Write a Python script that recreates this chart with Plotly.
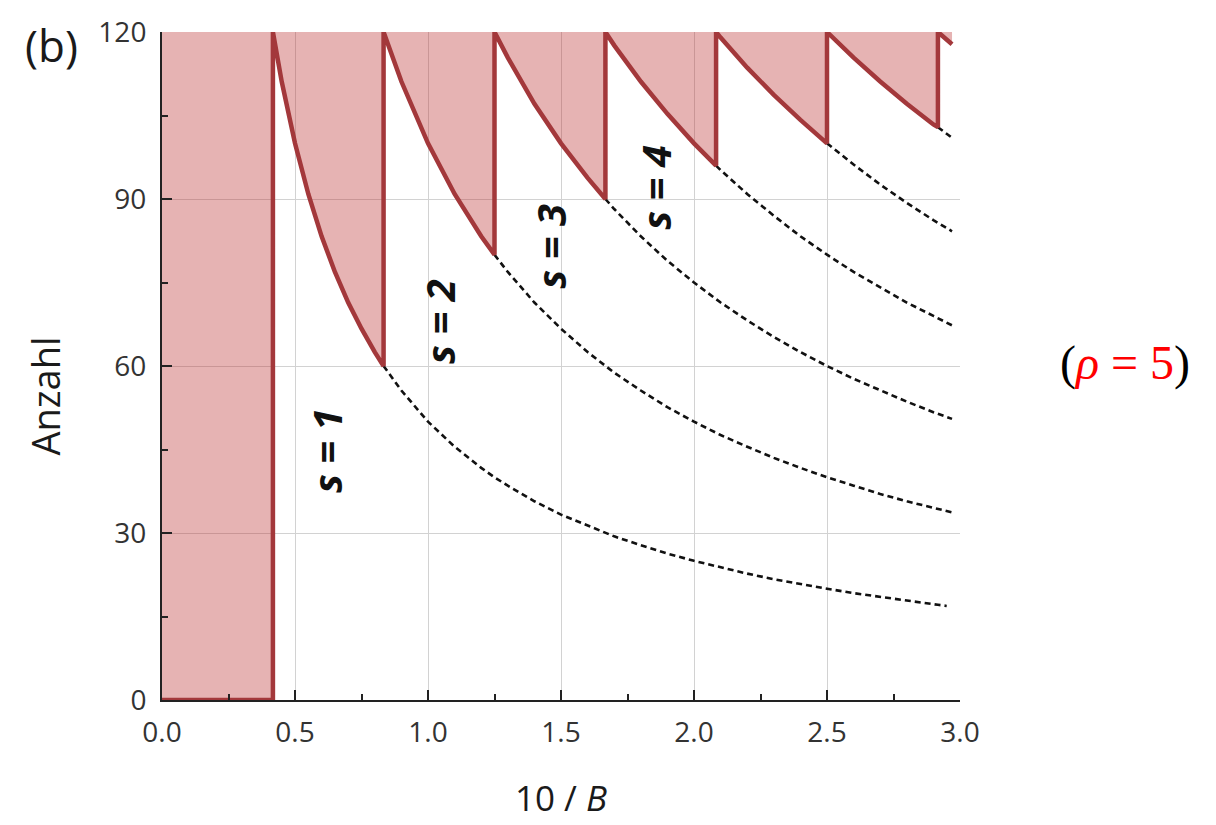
import plotly.graph_objects as go

# Sample positions along 10/B
curve_x = [0.417, 0.45, 0.5, 0.55, 0.6, 0.65, 0.7, 0.75, 0.8, 0.833, 0.9, 1.0, 1.1, 1.2,
           1.25, 1.3, 1.4, 1.5, 1.6, 1.667, 1.7, 1.8, 1.9, 2.0, 2.083, 2.1, 2.2, 2.3,
           2.4, 2.5, 2.6, 2.7, 2.8, 2.9, 2.917, 2.97]

N = None
# Anzahl for each branch s (None where the branch does not exist yet)
anzahl_s1 = [120, 111.1, 100, 90.9, 83.3, 76.9, 71.4, 66.7, 62.5, 60.0, 55.6, 50, 45.5, 41.7,
             40, 38.5, 35.7, 33.3, 31.3, 30, 29.4, 27.8, 26.3, 25, 24, 23.8, 22.7, 21.7,
             20.8, 20, 19.2, 18.5, 17.9, 17.2, 17.1, 16.8]
anzahl_s2 = [N, N, N, N, N, N, N, N, N, 120, 111.1, 100, 90.9, 83.3,
             80, 76.9, 71.4, 66.7, 62.5, 60, 58.8, 55.6, 52.6, 50, 48, 47.6, 45.5, 43.5,
             41.7, 40, 38.5, 37.0, 35.7, 34.5, 34.3, 33.7]
anzahl_s3 = [N, N, N, N, N, N, N, N, N, N, N, N, N, N,
             120, 115.4, 107.1, 100, 93.8, 90, 88.2, 83.3, 78.9, 75, 72, 71.4, 68.2, 65.2,
             62.5, 60, 57.7, 55.6, 53.6, 51.7, 51.4, 50.5]
anzahl_s4 = [N, N, N, N, N, N, N, N, N, N, N, N, N, N,
             N, N, N, N, N, 120, 117.6, 111.1, 105.3, 100, 96, 95.2, 90.9, 87.0,
             83.3, 80, 76.9, 74.1, 71.4, 69.0, 68.6, 67.3]
anzahl_s5 = [N, N, N, N, N, N, N, N, N, N, N, N, N, N,
             N, N, N, N, N, N, N, N, N, N, 120, 119.0, 113.6, 108.7,
             104.2, 100, 96.2, 92.6, 89.3, 86.2, 85.7, 84.2]
anzahl_s6 = [N, N, N, N, N, N, N, N, N, N, N, N, N, N,
             N, N, N, N, N, N, N, N, N, N, N, N, N, N,
             N, 120, 115.4, 111.1, 107.1, 103.4, 102.9, 101.0]
anzahl_s7 = [N, N, N, N, N, N, N, N, N, N, N, N, N, N,
             N, N, N, N, N, N, N, N, N, N, N, N, N, N,
             N, N, N, N, N, N, 120, 117.8]

branches = [anzahl_s1, anzahl_s2, anzahl_s3, anzahl_s4, anzahl_s5, anzahl_s6, anzahl_s7]
y_top = 120
line_red = "#a3383b"

# Sawtooth: at each x, the branch with the largest s that exists
saw_x, saw_y = [0, curve_x[0]], [0, 0]
for i, x in enumerate(curve_x):
    active = [b[i] for b in branches if b[i] is not None]
    if len(active) > 1 and active[-1] == y_top and i > 0:
        # jump: end of previous branch, then straight up to the top
        saw_x.append(x)
        saw_y.append(active[-2])
    saw_x.append(x)
    saw_y.append(active[-1])

fig = go.Figure()

# shaded area above the sawtooth
fig.add_trace(go.Scatter(
    x=saw_x + [saw_x[-1], 0], y=saw_y + [y_top, y_top],
    fill="toself", fillcolor="rgba(185,45,45,0.36)", mode="none",
    hoverinfo="skip", showlegend=False))

# dashed continuations of each branch below the sawtooth
for s, b in enumerate(branches[:-1]):
    nxt = branches[s + 1]
    start = next(i for i, v in enumerate(nxt) if v is not None)
    xs = curve_x[start:]
    ys = b[start:]
    if s == 0:
        xs, ys = xs[:-1] + [2.95], ys[:-1] + [16.9]
    fig.add_trace(go.Scatter(
        x=xs, y=ys, mode="lines",
        line=dict(color="#111111", width=2.6, dash="6px,4px"),
        hoverinfo="skip", showlegend=False))

fig.add_trace(go.Scatter(
    x=saw_x, y=saw_y, mode="lines",
    line=dict(color=line_red, width=4.5),
    hoverinfo="skip", showlegend=False))

font_main = "Open Sans, Noto Sans, sans-serif"

labels = [("s = 1", 0.618, 44.8), ("s = 2", 1.045, 68.1),
          ("s = 3", 1.46, 81.5), ("s = 4", 1.855, 92.1)]
for txt, lx, ly in labels:
    fig.add_annotation(x=lx, y=ly, xref="x", yref="y", text=f"<b><i>{txt}</i></b>",
                       textangle=-90, showarrow=False, xanchor="center", yanchor="middle",
                       font=dict(family=font_main, size=40, color="#111111"))

fig.add_annotation(x=-0.139, y=0.981, xref="paper", yref="paper", text="(b)",
                   showarrow=False, xanchor="center", yanchor="middle",
                   font=dict(family=font_main, size=44, color="#1a1a1a"))
fig.add_annotation(x=-0.146, y=0.455, xref="paper", yref="paper", text="Anzahl",
                   textangle=-90, showarrow=False, xanchor="center", yanchor="middle",
                   font=dict(family=font_main, size=38, color="#1a1a1a"))
fig.add_annotation(x=0.4995, y=-0.146, xref="paper", yref="paper", text="10 / <i>B</i>",
                   showarrow=False, xanchor="center", yanchor="middle",
                   font=dict(family=font_main, size=35, color="#1a1a1a"))
fig.add_annotation(x=1.207, y=0.504, xref="paper", yref="paper",
                   text="(<span style='color:#ff0000'><i>ρ</i> = 5</span>)",
                   showarrow=False, xanchor="center", yanchor="middle",
                   font=dict(family="Liberation Serif, DejaVu Serif, serif", size=48,
                             color="#000000"))

axis_common = dict(
    showline=True, linecolor="#222222", linewidth=2,
    ticks="inside", ticklen=10, tickwidth=2, tickcolor="#222222",
    showgrid=True, gridcolor="#d2d2d2", gridwidth=1, zeroline=False,
    tickfont=dict(family=font_main, size=28, color="#333333"),
    mirror=False,
)

fig.update_xaxes(range=[0, 3.0], tickvals=[0, 0.5, 1.0, 1.5, 2.0, 2.5, 3.0],
                 ticktext=["0.0", "0.5", "1.0", "1.5", "2.0", "2.5", "3.0"],
                 ticklabelstandoff=6,
                 minor=dict(tickvals=[0.25, 0.75, 1.25, 1.75, 2.25, 2.75],
                            ticks="inside", ticklen=6, tickwidth=2, tickcolor="#222222",
                            showgrid=False),
                 **axis_common)
fig.update_yaxes(range=[0, 120], tickvals=[0, 30, 60, 90, 120],
                 ticklabelstandoff=8,
                 minor=dict(tickvals=[15, 45, 75, 105],
                            ticks="inside", ticklen=6, tickwidth=2, tickcolor="#222222",
                            showgrid=False),
                 **axis_common)

fig.update_layout(
    width=1216, height=825,
    margin=dict(l=162, r=256, t=30, b=125),
    paper_bgcolor="white", plot_bgcolor="white",
    showlegend=False,
)

fig.write_html("out.html")
